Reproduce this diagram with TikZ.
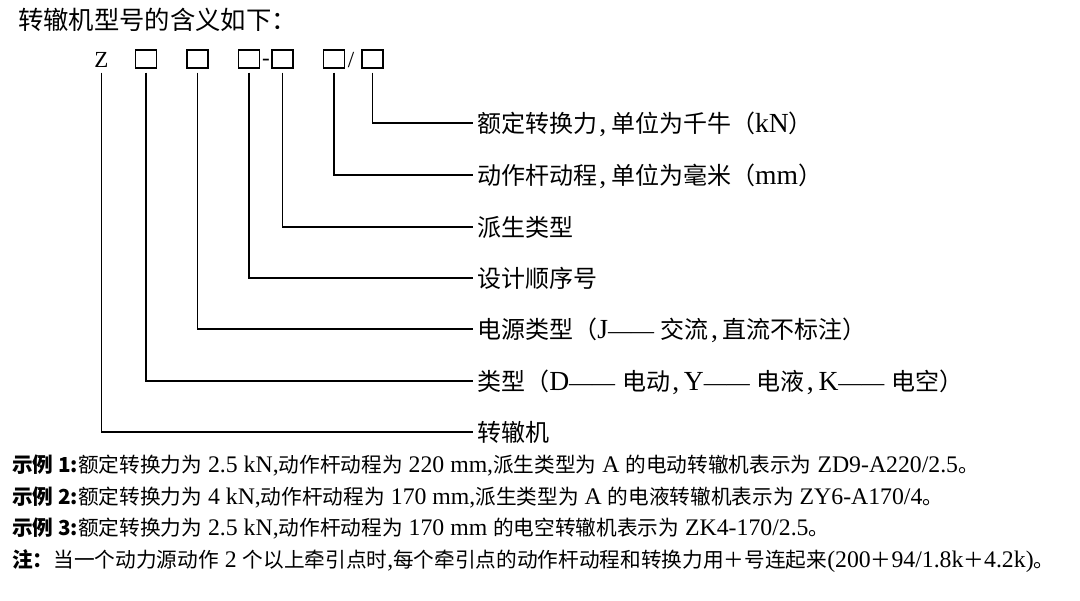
\documentclass[tikz,border=0pt]{standalone}
\usepackage{fontspec}
\setmainfont{Liberation Serif}[Scale=1.15]
\newfontfamily\cjk{Noto Sans CJK SC}
\newcommand\C[1]{{\cjk #1}}
\newcommand\B[1]{{\cjk\bfseries #1}}
\newcommand\Dash{{\fontsize{15}{18}\selectfont ——}}
\newcommand\Cm{\kern0.08em,\kern0.17em}
\begin{document}
\begin{tikzpicture}[x=0.75pt,y=-0.75pt,
  lbl/.style={anchor=base west,inner xsep=3pt,inner ysep=0pt,font=\fontsize{18}{20}\selectfont},
  ex/.style={anchor=base west,inner sep=0pt,font=\fontsize{15.5}{18}\selectfont},
  codebox/.style={draw,line width=0.8pt,minimum width=15.75pt,minimum height=13.5pt,inner sep=0pt},
  codechar/.style={inner sep=0pt,anchor=base,font=\fontsize{15}{18}\selectfont},
  conn/.style={line width=0.8pt}]
\useasboundingbox (0,0) rectangle (1080,600);
% title
\node[anchor=base west,inner sep=0pt,font=\fontsize{19}{21}\selectfont] (title) at (18,29) {\C{转辙机型号的含义如下：}};
% code row
\node[codechar] (z) at (101.5,67) {Z};
\node[codebox] (b1) at (146,59) {};
\node[codebox] (b2) at (197.5,59) {};
\node[codebox] (b3) at (249,59) {};
\node[codechar] (dash) at (266,65) {-};
\node[codebox] (b4) at (282.5,59) {};
\node[codebox] (b5) at (334,59) {};
\node[codechar] (slash) at (351,67) {/};
\node[codebox] (b6) at (372.5,59) {};
% labels
\node[lbl] (l1) at (473,132) {\C{额定转换力}\Cm\C{单位为千牛（}kN\C{）}};
\node[lbl] (l2) at (473,184) {\C{动作杆动程}\Cm\C{单位为毫米（}mm\C{）}};
\node[lbl] (l3) at (473,236) {\C{派生类型}};
\node[lbl] (l4) at (473,287) {\C{设计顺序号}};
\node[lbl] (l5) at (473,338) {\C{电源类型（}J\Dash{} \C{交流}\Cm\C{直流不标注）}};
\node[lbl] (l6) at (473,390) {\C{类型（}D\Dash{} \C{电动}\Cm Y\Dash{} \C{电液}\Cm K\Dash{} \C{电空）}};
\node[lbl] (l7) at (473,441) {\C{转辙机}};
% connectors
\draw[conn] ([yshift=-3pt]b6.south) |- ([yshift=6.75pt]l1.base west);
\draw[conn] ([yshift=-3pt]b5.south) |- ([yshift=6.75pt]l2.base west);
\draw[conn] ([yshift=-3pt]b4.south) |- ([yshift=6.75pt]l3.base west);
\draw[conn] ([yshift=-3pt]b3.south) |- ([yshift=6.75pt]l4.base west);
\draw[conn] ([yshift=-3pt]b2.south) |- ([yshift=6.75pt]l5.base west);
\draw[conn] ([yshift=-3pt]b1.south) |- ([yshift=6.75pt]l6.base west);
\draw[conn] ([yshift=-3pt]z.south |- b1.south) |- ([yshift=6.75pt]l7.base west);
% examples
\node[ex] (e1) at (12,472) {\B{示例 1:}\C{额定转换力为} 2.5 kN,\C{动作杆动程为} 220 mm,\C{派生类型为} A \C{的电动转辙机表示为} ZD9-A220/2.5\C{。}};
\node[ex] (e2) at (12,504) {\B{示例 2:}\C{额定转换力为} 4 kN,\C{动作杆动程为} 170 mm,\C{派生类型为} A \C{的电液转辙机表示为} ZY6-A170/4\C{。}};
\node[ex] (e3) at (12,535) {\B{示例 3:}\C{额定转换力为} 2.5 kN,\C{动作杆动程为} 170 mm \C{的电空转辙机表示为} ZK4-170/2.5\C{。}};
\node[ex] (e4) at (12,567) {\B{注：}\C{当一个动力源动作} 2 \C{个以上牵引点时},\C{每个牵引点的动作杆动程和转换力用＋号连起来}(200\C{＋}94/1.8k\C{＋}4.2k)\C{。}};
\end{tikzpicture}
\end{document}
